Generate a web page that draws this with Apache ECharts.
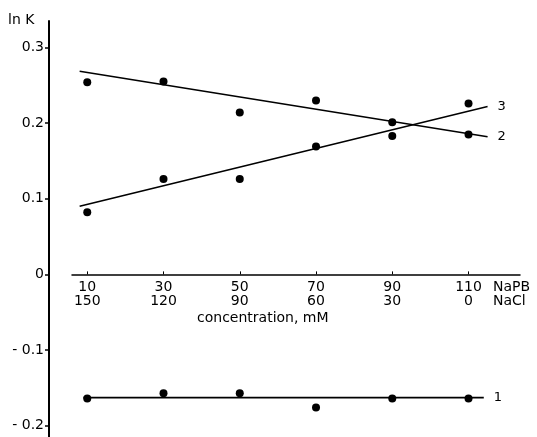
<!DOCTYPE html>
<html>
<head>
<meta charset="utf-8">
<script src="https://cdn.jsdelivr.net/npm/echarts@6/dist/echarts.min.js"></script>
<style>
  html, body { margin: 0; padding: 0; background: #fff; }
  #chart { width: 537px; height: 437px; }
</style>
</head>
<body>
<div id="chart"></div>
<script>
// concentrations (mM)
const napb = [10, 30, 50, 70, 90, 110];
const nacl = [150, 120, 90, 60, 30, 0];
const yTicks = [-0.2, -0.1, 0, 0.1, 0.2, 0.3];

// measured ln K
const points1 = [-0.164, -0.157, -0.157, -0.176, -0.164, -0.164];
const points2 = [0.254, 0.255, 0.214, 0.230, 0.201, 0.185];
const points3 = [0.082, 0.126, 0.126, 0.169, 0.183, 0.226];

// fitted lines (end points)
const fit1X = [9, 114], fit1Y = [-0.163, -0.163];
const fit2X = [8, 115], fit2Y = [0.2685, 0.182];
const fit3X = [8, 115], fit3Y = [0.090, 0.222];

const font = 'DejaVu Sans';
const ink = '#000';

const yMin = -0.215, yMax = 0.335;
const gridTop = 21, gridBottom = 0, chartH = 437;

const chart = echarts.init(document.getElementById('chart'));

const pts = (ys) => napb.map((x, i) => [x, ys[i]]);
const fit = (xs, ys) => xs.map((x, i) => [x, ys[i]]);

const scatter = (ys) => ({
    type: 'scatter',
    data: pts(ys),
    symbolSize: 8,
    itemStyle: {color: ink, opacity: 1},
    silent: true
});
const fitLine = (xs, ys, name) => ({
    type: 'line',
    data: fit(xs, ys),
    symbol: 'none',
    lineStyle: {color: ink, width: 1.6},
    endLabel: {show: true, formatter: name, distance: 10, fontFamily: font, fontSize: 13, color: ink},
    silent: true
});

// move the x axis up to y = 0
const plotH = chartH - gridTop - gridBottom;
const zeroOffset = -plotH * (0 - yMin) / (yMax - yMin);

const option = {
    animation: false,
    backgroundColor: '#fff',
    grid: {left: 72, right: 17, top: gridTop, bottom: gridBottom, outerBoundsMode: 'none', containLabel: false},
    xAxis: {
        type: 'value',
        min: 6,
        max: 123.5,
        position: 'bottom',
        offset: zeroOffset,
        axisLine: {onZero: false, lineStyle: {color: ink, width: 1.5}},
        axisTick: {show: true, inside: true, length: 3, customValues: napb, lineStyle: {color: ink}},
        axisLabel: {
            customValues: napb,
            margin: 6,
            lineHeight: 14,
            fontFamily: font,
            fontSize: 14,
            color: ink,
            formatter: (v) => v + '\n' + nacl[napb.indexOf(v)]
        },
        splitLine: {show: false}
    },
    yAxis: {
        type: 'value',
        min: yMin,
        max: yMax,
        offset: 23,
        axisLine: {show: true, onZero: false, lineStyle: {color: ink, width: 2}},
        axisTick: {show: true, length: 4, customValues: yTicks, lineStyle: {color: ink, width: 1.5}},
        axisLabel: {
            customValues: yTicks,
            margin: 5,
            fontFamily: font,
            fontSize: 14,
            color: ink,
            formatter: (v) => v === 0 ? '0' : (v < 0 ? '- ' + Math.abs(v).toFixed(1) : v.toFixed(1))
        },
        splitLine: {show: false}
    },
    graphic: [
        {type: 'text', left: 8, top: 13, style: {text: 'ln K', font: '14px "DejaVu Sans"', fill: ink}},
        {type: 'text', left: 493, top: 280, style: {text: 'NaPB\nNaCl', font: '14px "DejaVu Sans"', lineHeight: 14, fill: ink}},
        {type: 'text', left: 197, top: 311, style: {text: 'concentration, mM', font: '14px "DejaVu Sans"', fill: ink}}
    ],
    series: [
        fitLine(fit1X, fit1Y, '1'),
        fitLine(fit2X, fit2Y, '2'),
        fitLine(fit3X, fit3Y, '3'),
        scatter(points1),
        scatter(points2),
        scatter(points3)
    ]
};

chart.setOption(option);
</script>
</body>
</html>
